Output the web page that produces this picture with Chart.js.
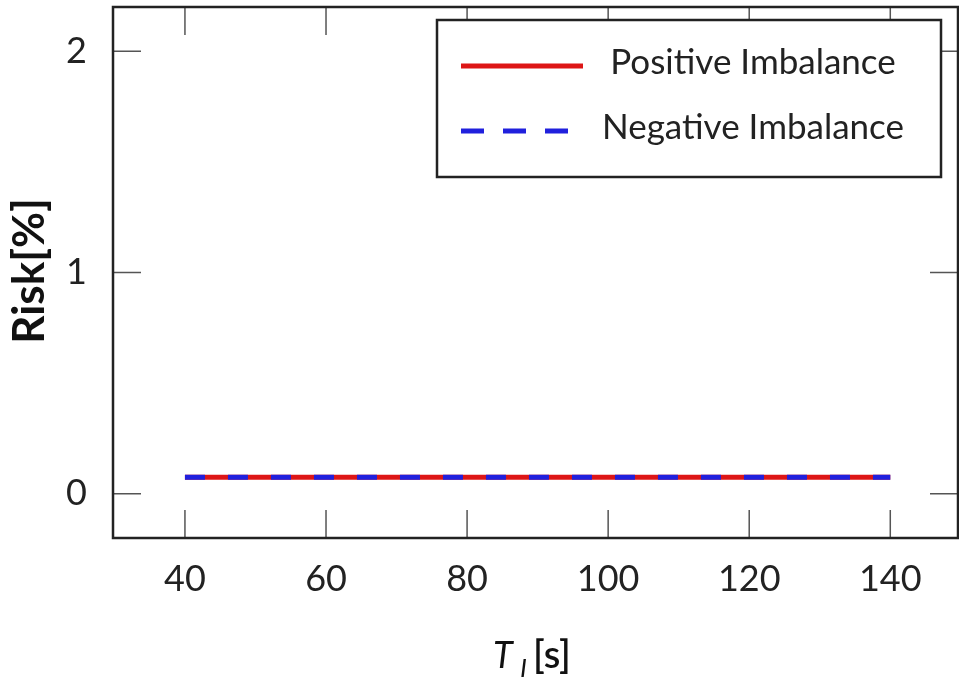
<!DOCTYPE html>
<html>
<head>
<meta charset="utf-8">
<script src="https://cdn.jsdelivr.net/npm/chart.js@4.4.1/dist/chart.umd.min.js"></script>
<style>
  html, body { margin: 0; padding: 0; background: #fff; overflow: hidden; }
</style>
</head>
<body>
<canvas id="riskChart" width="959" height="692"></canvas>
<script>
const timeValues = [40, 60, 80, 100, 120, 140]
const positiveRisk = [0.075, 0.075, 0.075, 0.075, 0.075, 0.075]
const negativeRisk = [0.075, 0.075, 0.075, 0.075, 0.075, 0.075]
const xTicks = [40, 60, 80, 100, 120, 140]
const yTicks = [0, 1, 2]
const seriesNames = ['Positive Imbalance', 'Negative Imbalance']
const seriesColors = ['#dd1616', '#2020dd']

const toPoints = values => values.map((v, i) => ({ x: timeValues[i], y: v }))

// ticks on all four sides, pointing inward, plus the box round the plot
const framePlugin = {
  id: 'frame',
  afterDatasetsDraw(chart) {
    const { ctx, chartArea: a, scales } = chart
    const tickLen = 28
    ctx.save()
    ctx.strokeStyle = '#555'
    ctx.lineWidth = 1.5
    scales.x.ticks.forEach(t => {
      const px = scales.x.getPixelForValue(t.value)
      ctx.beginPath()
      ctx.moveTo(px, a.bottom)
      ctx.lineTo(px, a.bottom - tickLen)
      ctx.moveTo(px, a.top)
      ctx.lineTo(px, a.top + tickLen)
      ctx.stroke()
    })
    scales.y.ticks.forEach(t => {
      const py = scales.y.getPixelForValue(t.value)
      ctx.beginPath()
      ctx.moveTo(a.left, py)
      ctx.lineTo(a.left + tickLen, py)
      ctx.moveTo(a.right, py)
      ctx.lineTo(a.right - tickLen, py)
      ctx.stroke()
    })
    ctx.strokeStyle = '#222'
    ctx.lineWidth = 2.5
    ctx.strokeRect(a.left, a.top, a.right - a.left, a.bottom - a.top)
    ctx.restore()
  }
}

// boxed legend in the top right corner
const boxLegendPlugin = {
  id: 'boxLegend',
  afterDraw(chart) {
    const { ctx } = chart
    const box = { x: 437, y: 20, w: 504, h: 157 }
    ctx.save()
    ctx.fillStyle = '#fff'
    ctx.fillRect(box.x, box.y, box.w, box.h)
    ctx.strokeStyle = '#222'
    ctx.lineWidth = 2.5
    ctx.strokeRect(box.x, box.y, box.w, box.h)
    chart.data.datasets.forEach((ds, i) => {
      const rowY = 66 + i * 65
      ctx.beginPath()
      ctx.strokeStyle = ds.borderColor
      ctx.lineWidth = ds.borderWidth
      ctx.setLineDash(ds.legendDash || [])
      ctx.moveTo(461, rowY)
      ctx.lineTo(583, rowY)
      ctx.stroke()
      ctx.setLineDash([])
      ctx.fillStyle = '#222'
      ctx.font = '35px Lato'
      ctx.textAlign = 'center'
      ctx.textBaseline = 'middle'
      ctx.fillText(ds.label, 753, rowY - 3)
    })
    ctx.restore()
  }
}

// axis titles: bold rotated y title and T with subscript I for x
const axisTitlePlugin = {
  id: 'axisTitles',
  afterDraw(chart) {
    const { ctx } = chart
    ctx.save()
    ctx.fillStyle = '#111'
    ctx.translate(30, 271)
    ctx.rotate(-Math.PI / 2)
    ctx.font = 'bold 44px Lato'
    ctx.textAlign = 'center'
    ctx.textBaseline = 'middle'
    ctx.fillText('Risk[%]', 0, 0)
    ctx.restore()

    ctx.save()
    ctx.fillStyle = '#111'
    ctx.textBaseline = 'alphabetic'
    ctx.textAlign = 'left'
    ctx.font = 'italic 36px Lato'
    ctx.fillText('T', 493, 668)
    ctx.font = 'italic 26px Lato'
    ctx.fillText('I', 520, 677)
    ctx.font = '600 38px Lato'
    ctx.fillText('[s]', 533, 668)
    ctx.restore()
  }
}

new Chart('riskChart', {
  type: 'line',
  data: {
    datasets: [{
      label: seriesNames[0],
      data: toPoints(positiveRisk),
      borderColor: seriesColors[0],
      borderWidth: 5,
      borderCapStyle: 'butt',
      pointRadius: 0,
      order: 1
    }, {
      label: seriesNames[1],
      data: toPoints(negativeRisk),
      borderColor: seriesColors[1],
      borderWidth: 5,
      borderCapStyle: 'butt',
      borderDash: [20, 23],
      legendDash: [23, 19],
      pointRadius: 0,
      order: 0
    }]
  },
  options: {
    responsive: false,
    animation: false,
    layout: {
      padding: { top: 7, right: 1, left: 0, bottom: 0 }
    },
    plugins: {
      legend: { display: false },
      tooltip: { enabled: false }
    },
    scales: {
      x: {
        type: 'linear',
        min: 29.8,
        max: 149.6,
        afterBuildTicks: scale => { scale.ticks = xTicks.map(v => ({ value: v })) },
        afterFit: scale => {
          scale.height = 154
          scale.paddingLeft = 0
          scale.paddingRight = 0
        },
        grid: { display: false, drawTicks: false },
        border: { display: false },
        ticks: {
          color: '#222',
          font: { family: 'Lato', size: 36 },
          padding: 20,
          maxRotation: 0
        }
      },
      y: {
        min: -0.2,
        max: 2.2,
        afterBuildTicks: scale => { scale.ticks = yTicks.map(v => ({ value: v })) },
        afterFit: scale => {
          scale.width = 113
          scale.paddingTop = 0
          scale.paddingBottom = 0
        },
        grid: { display: false, drawTicks: false },
        border: { display: false },
        ticks: {
          color: '#222',
          font: { family: 'Lato', size: 36 },
          padding: 26
        }
      }
    }
  },
  plugins: [framePlugin, boxLegendPlugin, axisTitlePlugin]
})
</script>
</body>
</html>
